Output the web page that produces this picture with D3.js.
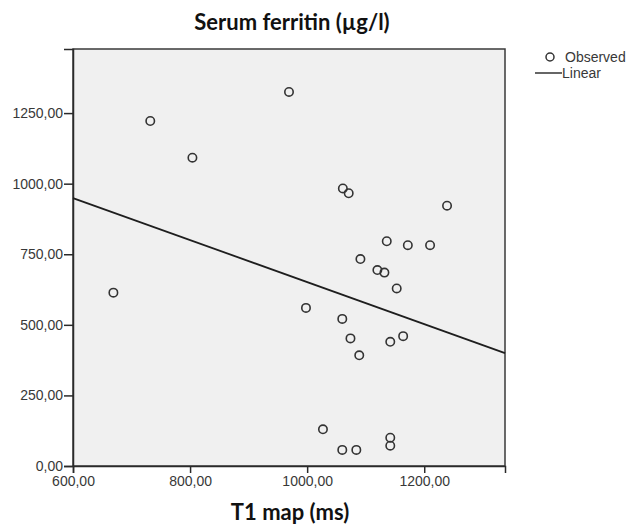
<!DOCTYPE html>
<html>
<head>
<meta charset="utf-8">
<script src="https://cdn.jsdelivr.net/npm/d3@7"></script>
<style>
  body { margin: 0; background: #fff; }
  svg { display: block; }
</style>
</head>
<body>
<svg id="chart"></svg>
<script>
// data
var t1Map = [732, 804, 969, 669, 1061, 1071, 1239, 1136, 1172, 1210, 1091, 1120, 1132,
             1153, 998, 1060, 1074, 1089, 1142, 1164, 1027, 1060, 1084, 1142, 1142];
var ferritin = [1222, 1092, 1325, 614, 983, 966, 922, 796, 782, 782, 733, 694, 685,
                629, 560, 521, 452, 392, 440, 460, 130, 57, 57, 100, 72];
var fitX = [600, 1338];
var fitY = [949, 400];
var xTicks = [600, 800, 1000, 1200];
var yTicks = [0, 250, 500, 750, 1000, 1250];
var legendLabels = ["Observed", "Linear"];

var width = 630;
var height = 528;
var margin = {top: 49, right: 125, bottom: 62, left: 73};
var tickFont = "Liberation Sans, Arial, sans-serif";

var points = t1Map.map(function(d, i){ return {x: d, y: ferritin[i]}; });
var fmt = d3.formatLocale({decimal: ",", thousands: "", grouping: [3], currency: ["", ""]}).format(".2f");

var xScale = d3.scaleLinear()
                .domain([600, 1338])
                .range([margin.left, width - margin.right]);

var yScale = d3.scaleLinear()
                .domain([0, 1477])
                .range([height - margin.bottom, margin.top]);

var svg = d3.select("#chart")
              .attr("width", width)
              .attr("height", height);

// plot background
svg.append("rect")
    .attr("x", margin.left)
    .attr("y", margin.top)
    .attr("width", width - margin.left - margin.right)
    .attr("height", height - margin.top - margin.bottom)
    .attr("fill", "#f0f0f0")
    .attr("stroke", "#3a3a3a")
    .attr("stroke-width", 1.5);

var xAxis = svg.append("g")
    .attr("transform", "translate(0," + (height - margin.bottom) + ")")
    .call(d3.axisBottom(xScale).tickValues(xTicks).tickFormat(fmt).tickSizeOuter(0).tickSize(7));

var yAxis = svg.append("g")
    .attr("transform", "translate(" + margin.left + ",0)")
    .call(d3.axisLeft(yScale).tickValues(yTicks).tickFormat(fmt).tickSizeOuter(0).tickSize(9));

[xAxis, yAxis].forEach(function(g){
  g.attr("font-family", tickFont).attr("font-size", 14);
  g.select(".domain").attr("stroke", "#2a2a2a").attr("stroke-width", 1.5);
  g.selectAll(".tick line").attr("stroke", "#2a2a2a").attr("stroke-width", 1.5);
  g.selectAll(".tick text").attr("fill", "#383838");
});
xAxis.selectAll(".tick text").attr("y", 10).attr("dy", "0.71em");
yAxis.selectAll(".tick text").attr("x", -10);

// fit line
svg.append("line")
    .attr("x1", xScale(fitX[0]))
    .attr("y1", yScale(fitY[0]))
    .attr("x2", xScale(fitX[1]))
    .attr("y2", yScale(fitY[1]))
    .attr("stroke", "#1e1e1e")
    .attr("stroke-width", 1.8);

svg.selectAll("circle.obs")
  .data(points)
  .enter()
  .append("circle")
    .classed("obs", true)
    .attr("cx", d => xScale(d.x))
    .attr("cy", d => yScale(d.y))
    .attr("r", 4.2)
    .attr("fill", "none")
    .attr("stroke", "#333")
    .attr("stroke-width", 1.6);

// titles
svg.append("text")
    .attr("x", 292)
    .attr("y", 30)
    .style("text-anchor", "middle")
    .style("font-family", "Lato, sans-serif")
    .style("font-weight", "bold")
    .style("font-size", "22px")
    .attr("fill", "#111")
    .text("Serum ferritin (µg/l)");

svg.append("text")
    .attr("x", 290)
    .attr("y", 520)
    .style("text-anchor", "middle")
    .style("font-family", "Lato, sans-serif")
    .style("font-weight", "bold")
    .style("font-size", "22px")
    .attr("fill", "#111")
    .text("T1 map (ms)");

// legend
var legend = svg.append("g")
    .attr("font-family", tickFont)
    .attr("font-size", 14);
legend.append("circle")
    .attr("cx", 550)
    .attr("cy", 57)
    .attr("r", 4)
    .attr("fill", "none")
    .attr("stroke", "#333")
    .attr("stroke-width", 1.5);
legend.append("line")
    .attr("x1", 535)
    .attr("x2", 562)
    .attr("y1", 73)
    .attr("y2", 73)
    .attr("stroke", "#333")
    .attr("stroke-width", 1.5);
legend.selectAll("text")
  .data(legendLabels)
  .enter()
  .append("text")
    .attr("x", (d, i) => i === 0 ? 565 : 562)
    .attr("y", (d, i) => 62 + i * 16)
    .attr("fill", "#383838")
    .text(d => d);
</script>
</body>
</html>
